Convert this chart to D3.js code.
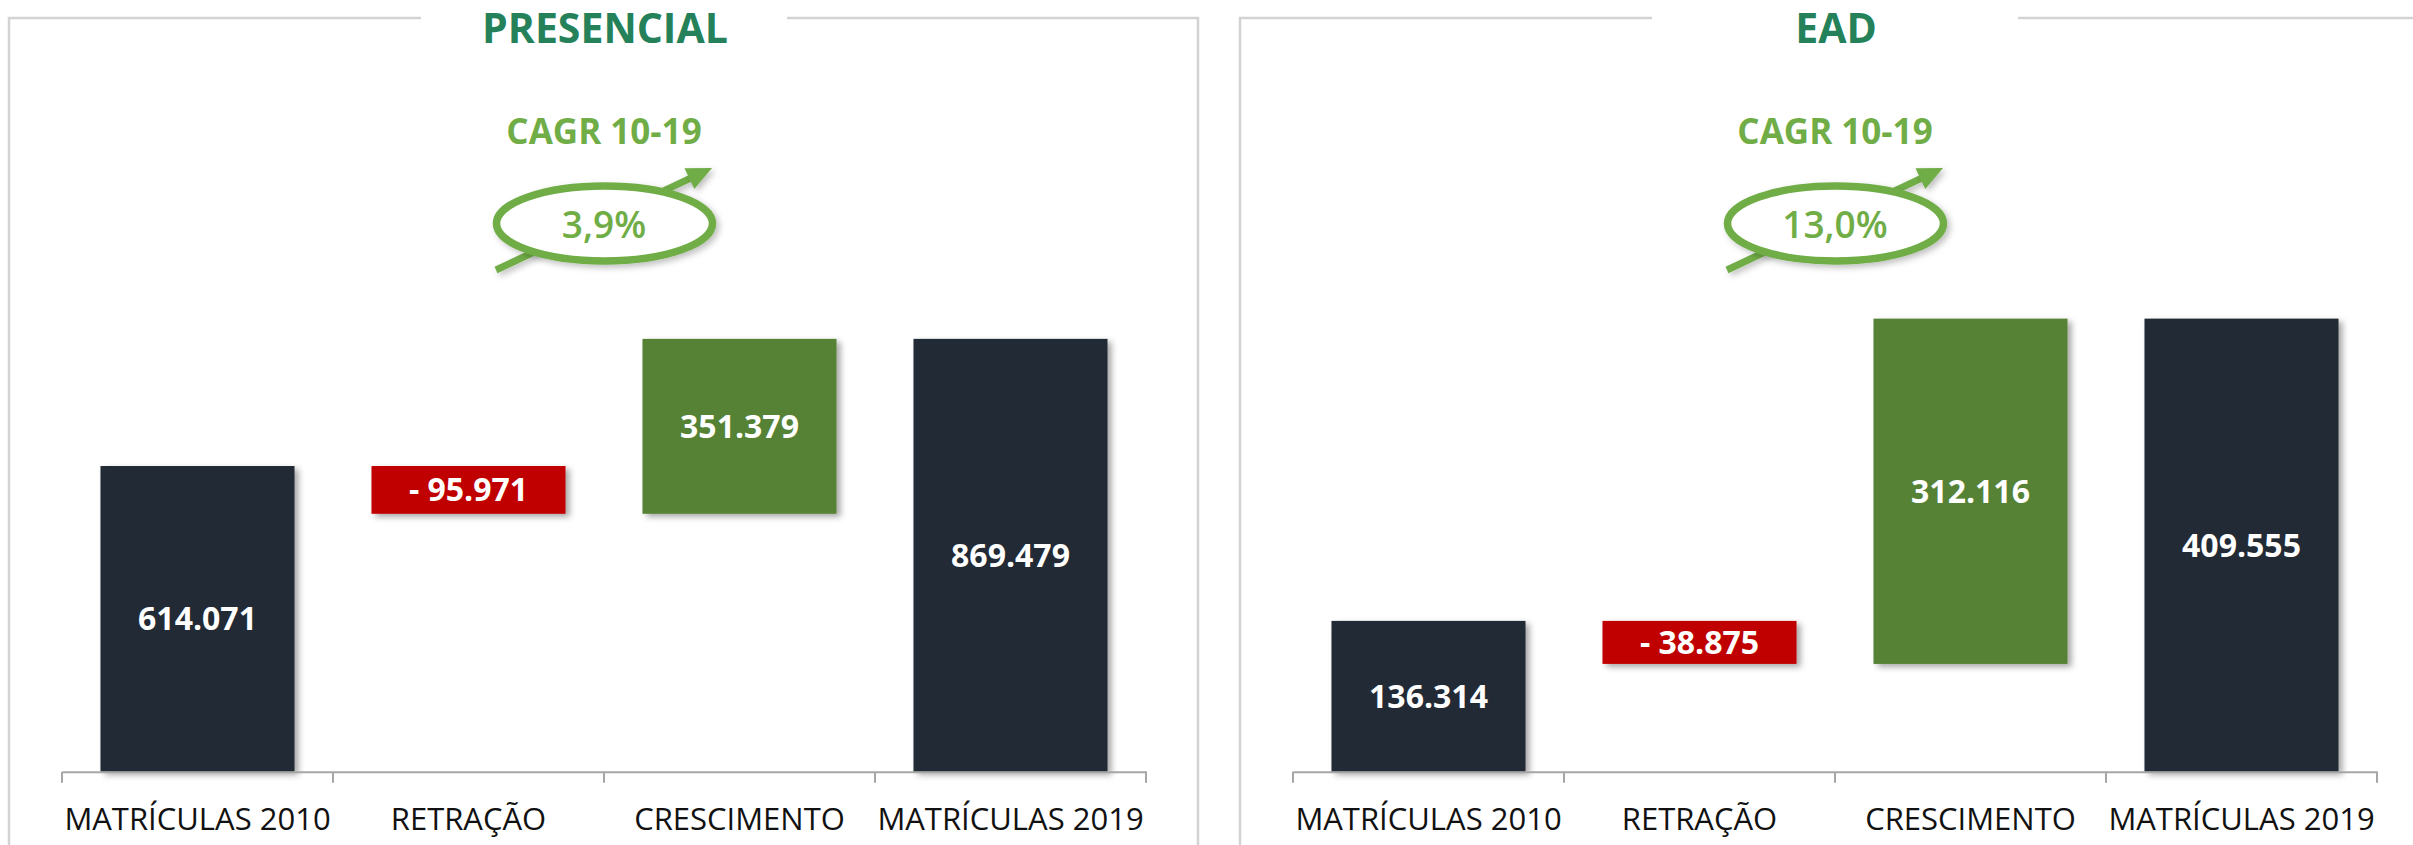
<!DOCTYPE html>
<html>
<head>
<meta charset="utf-8">
<script src="https://cdn.jsdelivr.net/npm/d3@7"></script>
<style>
  html, body { margin: 0; padding: 0; background: #fff; }
  svg { display: block; font-family: 'Open Sans', 'Noto Sans', sans-serif; }
</style>
</head>
<body>
<svg id="chart"></svg>
<script>
// data
var categories = ['MATRÍCULAS 2010', 'RETRAÇÃO', 'CRESCIMENTO', 'MATRÍCULAS 2019']
var presencialValues = [614071, -95971, 351379, 869479]
var eadValues = [136314, -38875, 312116, 409555]
var panelTitles = ['PRESENCIAL', 'EAD']
var cagrTitle = 'CAGR 10-19'
var cagrValues = ['3,9%', '13,0%']
var axisMax = [1000000, 450000]

var width = 2413
var height = 845
var panelStep = 1231

var colors = {
    total: '#222a35',
    down: '#c00000',
    up: '#548235',
    cagr: '#70ad47',
    title: '#24815a',
    frame: '#d3d3d3',
    axis: '#a6a6a6'
}

var br = d3.formatLocale({ decimal: ',', thousands: '.', grouping: [3], currency: ['R$', ''] })
var fmt = br.format(',d')

var svg = d3.select('#chart')
    .attr('width', width)
    .attr('height', height)

var defs = svg.append('defs')
defs.append('filter')
    .attr('id', 'shadow')
    .attr('x', '-10%').attr('y', '-10%')
    .attr('width', '130%').attr('height', '130%')
    .append('feDropShadow')
    .attr('dx', 4).attr('dy', 3)
    .attr('stdDeviation', 3)
    .attr('flood-color', '#000')
    .attr('flood-opacity', 0.35)

defs.append('filter')
    .attr('id', 'softShadow')
    .attr('x', '-20%').attr('y', '-30%')
    .attr('width', '150%').attr('height', '170%')
    .append('feDropShadow')
    .attr('dx', 3).attr('dy', 3)
    .attr('stdDeviation', 3)
    .attr('flood-color', '#000')
    .attr('flood-opacity', 0.25)

// waterfall segments from the raw values
function segments(values) {
    var start = values[0]
    var afterDrop = start + values[1]
    var afterRise = afterDrop + values[2]
    return [
        { cat: categories[0], y0: 0, y1: start, v: values[0], kind: 'total' },
        { cat: categories[1], y0: afterDrop, y1: start, v: values[1], kind: 'down' },
        { cat: categories[2], y0: afterDrop, y1: afterRise, v: values[2], kind: 'up' },
        { cat: categories[3], y0: 0, y1: values[3], v: values[3], kind: 'total' }
    ]
}

function drawPanel(i, values) {
    var g = svg.append('g')
        .attr('transform', 'translate(' + (i * panelStep) + ',0)')

    // frame with a gap for the title
    g.append('rect')
        .attr('x', 9).attr('y', 18)
        .attr('width', 1189).attr('height', 900)
        .attr('fill', 'none')
        .attr('stroke', colors.frame)
        .attr('stroke-width', 2.5)
    g.append('rect')
        .attr('x', 421).attr('y', 10)
        .attr('width', 366).attr('height', 16)
        .attr('fill', '#fff')

    g.append('text')
        .attr('x', 605).attr('y', 43)
        .attr('text-anchor', 'middle')
        .style('font-size', '41px')
        .style('font-weight', 700)
        .style('fill', colors.title)
        .text(panelTitles[i])

    // CAGR badge
    g.append('text')
        .attr('x', 604).attr('y', 144)
        .attr('text-anchor', 'middle')
        .style('font-size', '35px')
        .style('font-weight', 700)
        .style('fill', colors.cagr)
        .text(cagrTitle)

    var tail = [496, 270], tip = [712, 168]
    var ang = Math.atan2(tip[1] - tail[1], tip[0] - tail[0])
    var ux = Math.cos(ang), uy = Math.sin(ang)
    var headLen = 25, headW = 23
    var bx = tip[0] - headLen * ux, by = tip[1] - headLen * uy
    g.append('line')
        .attr('x1', tail[0]).attr('y1', tail[1])
        .attr('x2', bx + 2 * ux).attr('y2', by + 2 * uy)
        .attr('stroke', colors.cagr)
        .attr('stroke-width', 7)
        .attr('filter', 'url(#softShadow)')
    g.append('path')
        .attr('d', 'M' + tip[0] + ',' + tip[1] +
            'L' + (bx - headW / 2 * uy) + ',' + (by + headW / 2 * ux) +
            'L' + (bx + headW / 2 * uy) + ',' + (by - headW / 2 * ux) + 'Z')
        .attr('fill', colors.cagr)
        .attr('filter', 'url(#softShadow)')

    g.append('ellipse')
        .attr('cx', 604.5).attr('cy', 223.5)
        .attr('rx', 108).attr('ry', 37.5)
        .attr('fill', '#fff')
        .attr('stroke', colors.cagr)
        .attr('stroke-width', 7.5)
        .attr('filter', 'url(#softShadow)')

    g.append('text')
        .attr('x', 604).attr('y', 238)
        .attr('text-anchor', 'middle')
        .style('font-size', '37px')
        .style('font-weight', 600)
        .style('fill', colors.cagr)
        .text(cagrValues[i])

    // scales
    var x = d3.scaleBand()
        .domain(categories)
        .range([62, 1146])
        .paddingInner(0.284)
        .paddingOuter(0.142)

    var y = d3.scaleLinear()
        .domain([0, axisMax[i]])
        .range([771.7, 273.9])

    var data = segments(values)

    g.append('g')
        .selectAll('rect')
        .data(data)
        .enter().append('rect')
        .attr('x', function(d) { return x(d.cat) })
        .attr('y', function(d) { return y(Math.max(d.y0, d.y1)) })
        .attr('width', x.bandwidth())
        .attr('height', function(d) { return Math.abs(y(d.y0) - y(d.y1)) })
        .attr('fill', function(d) { return colors[d.kind] })
        .attr('filter', 'url(#shadow)')

    g.append('g')
        .selectAll('text')
        .data(data)
        .enter().append('text')
        .attr('x', function(d) { return x(d.cat) + x.bandwidth() / 2 })
        .attr('y', function(d) { return (y(d.y0) + y(d.y1)) / 2 })
        .attr('dy', '0.36em')
        .attr('text-anchor', 'middle')
        .style('font-size', '32px')
        .style('font-weight', 700)
        .style('fill', '#fff')
        .text(function(d) { return d.v < 0 ? '- ' + fmt(-d.v) : fmt(d.v) })

    // category axis with ticks between bands
    var step = x.step()
    var axis = d3.axisBottom(x).tickSize(0).tickPadding(36)
    var ax = g.append('g')
        .attr('transform', 'translate(0,' + y(0) + ')')
        .call(axis)
    ax.select('.domain')
        .attr('stroke', colors.axis)
        .attr('stroke-width', 2)
    ax.selectAll('.tick text')
        .style('font-size', '31px')
        .style('font-family', "'Open Sans', sans-serif")
        .style('fill', '#111')
    ax.selectAll('.sep')
        .data(d3.range(categories.length + 1))
        .enter().append('line')
        .attr('class', 'sep')
        .attr('x1', function(k) { return 62 + k * step })
        .attr('x2', function(k) { return 62 + k * step })
        .attr('y1', 0).attr('y2', 11)
        .attr('stroke', colors.axis)
        .attr('stroke-width', 2)
}

drawPanel(0, presencialValues)
drawPanel(1, eadValues)
</script>
</body>
</html>
